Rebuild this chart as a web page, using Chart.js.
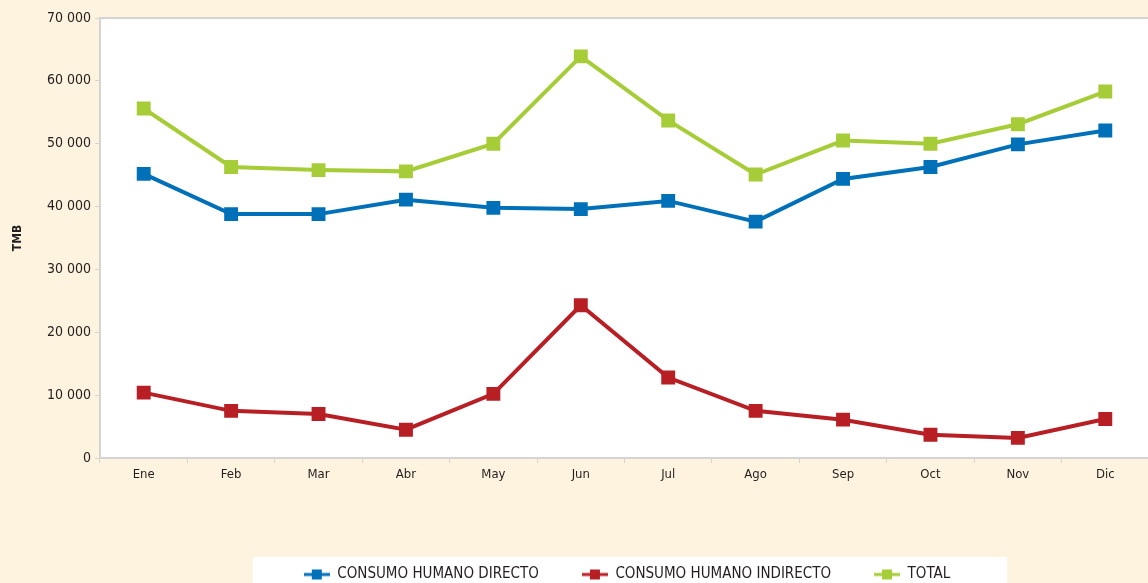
<!DOCTYPE html>
<html>
<head>
<meta charset="utf-8">
<script src="https://cdn.jsdelivr.net/npm/chart.js@4"></script>
<style>
  html, body { margin: 0; padding: 0; overflow: hidden; background: #fef3de; }
  #wrap { width: 1160px; height: 592px; }
</style>
</head>
<body>
<div id="wrap"><canvas id="myChart"></canvas></div>
<script>
const labels = ['Ene', 'Feb', 'Mar', 'Abr', 'May', 'Jun', 'Jul', 'Ago', 'Sep', 'Oct', 'Nov', 'Dic'];
const directo = [45200, 38800, 38800, 41100, 39800, 39600, 40900, 37600, 44400, 46300, 49900, 52100];
const indirecto = [10400, 7500, 7000, 4500, 10200, 24300, 12800, 7500, 6100, 3700, 3200, 6200];
const total = [55600, 46300, 45800, 45600, 50000, 63900, 53700, 45100, 50500, 50000, 53100, 58300];

const font = "'DejaVu Sans Condensed', 'Liberation Sans Narrow', 'Roboto Condensed', 'Noto Sans', sans-serif";
const txt = '#231f20';

// legend marker: short line with a square in the middle
function marker(color) {
  const c = document.createElement('canvas');
  c.width = 26; c.height = 12;
  const g = c.getContext('2d');
  g.fillStyle = color;
  g.fillRect(0, 4.5, 26, 3);
  g.fillRect(8, 1, 10, 10);
  return c;
}

const colors = ['#0071b9', '#b81f25', '#a6cd38'];

const data = {
  labels: labels,
  datasets: [
    { label: 'CONSUMO HUMANO DIRECTO', data: directo },
    { label: 'CONSUMO HUMANO INDIRECTO', data: indirecto },
    { label: 'TOTAL', data: total }
  ].map((d, i) => Object.assign(d, {
    borderColor: colors[i],
    backgroundColor: colors[i],
    borderWidth: 4,
    pointStyle: 'rect',
    pointRadius: 7,
    pointHoverRadius: 7,
    tension: 0
  }))
};

const shift = 47;

const bgPlugin = {
  id: 'bg',
  afterUpdate(chart) {
    // the legend sits a little right of the canvas centre
    const lg = chart.legend;
    lg.left += shift;
    lg.right += shift;
    lg.legendHitBoxes.forEach(h => { h.left += shift; });
  },
  beforeDraw(chart) {
    const ctx = chart.ctx;
    const a = chart.chartArea;
    ctx.save();
    ctx.fillStyle = '#ffffff';
    ctx.fillRect(a.left, a.top, a.right - a.left, a.bottom - a.top);
    ctx.strokeStyle = '#d4d4d4';
    ctx.lineWidth = 2;
    ctx.beginPath();
    ctx.moveTo(a.left, a.top);
    ctx.lineTo(a.right, a.top);
    ctx.stroke();
    // legend white box
    const hb = chart.legend.legendHitBoxes;
    if (hb && hb.length) {
      const l = hb[0].left - 51;
      const r = hb[hb.length - 1].left + hb[hb.length - 1].width + 57;
      const t = hb[0].top - 10;
      ctx.fillStyle = '#ffffff';
      ctx.fillRect(l, t, r - l, 60);
    }
    ctx.restore();
  }
};

const config = {
  type: 'line',
  data: data,
  options: {
    responsive: true,
    maintainAspectRatio: false,
    animation: false,
    layout: { padding: { top: 18, left: 0, right: 0, bottom: 0 } },
    plugins: {
      legend: {
        position: 'bottom',
        labels: {
          color: txt,
          font: { family: font, size: 15 },
          boxWidth: 26,
          pointStyleWidth: 26,
          padding: 43,
          usePointStyle: true,
          generateLabels(chart) {
            return chart.data.datasets.map((ds, i) => ({
              text: ds.label,
              pointStyle: marker(colors[i]),
              fillStyle: colors[i],
              strokeStyle: colors[i],
              fontColor: txt,
              datasetIndex: i
            }));
          }
        }
      },
      tooltip: { enabled: false }
    },
    scales: {
      x: {
        offset: true,
        grid: { offset: true, drawOnChartArea: false, color: '#d4d4d4', tickLength: 5 },
        border: { color: '#d4d4d4', width: 2 },
        ticks: { color: txt, font: { family: font, size: 13 }, padding: 4 },
        afterFit(scale) { scale.height = 66; }
      },
      y: {
        min: 0,
        max: 70000,
        grid: { drawOnChartArea: false, color: '#d4d4d4', tickLength: 5 },
        border: { color: '#d4d4d4', width: 2 },
        ticks: {
          stepSize: 10000,
          color: txt,
          font: { family: font, size: 14 },
          padding: 4,
          callback: v => v === 0 ? '0' : String(v).replace(/\B(?=(\d{3})+(?!\d))/g, ' ')
        },
        title: {
          display: true, text: 'TMB', color: txt,
          padding: { top: 11, bottom: 4 },
          font: { family: font, size: 12, weight: 'bold' }
        },
        afterFit(scale) { scale.width = 100; }
      }
    }
  },
  plugins: [bgPlugin]
};

const myChart = new Chart(document.getElementById('myChart'), config);
</script>
</body>
</html>
